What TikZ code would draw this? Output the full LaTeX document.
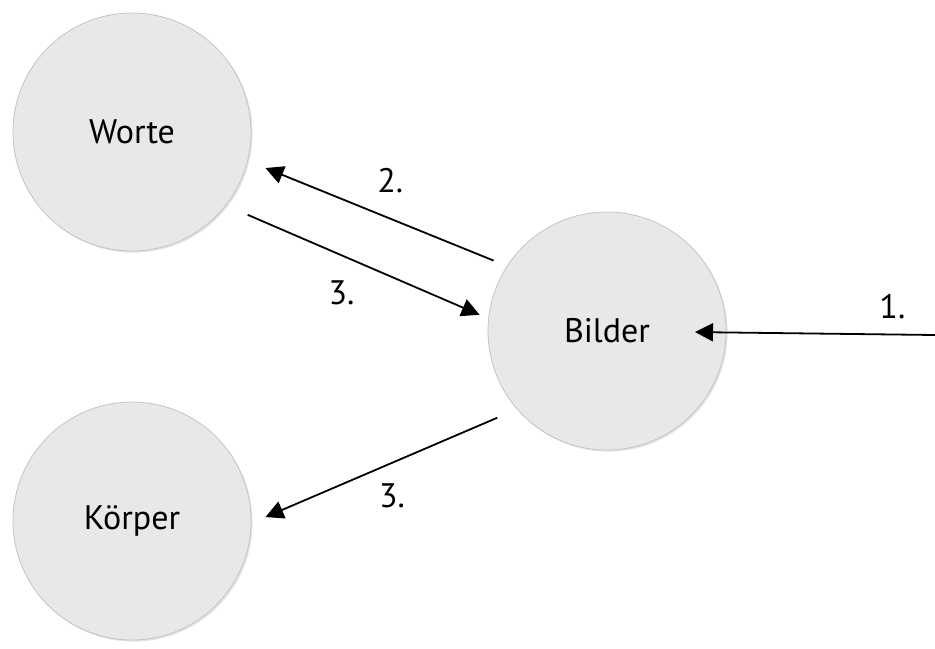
\documentclass[tikz,border=0pt]{standalone}
\usepackage{fontspec}
\setmainfont{PT Sans}
\usepackage{xcolor}
\usetikzlibrary{arrows.meta, shadows}

\definecolor{bubblefill}{RGB}{232,232,232}
\definecolor{bubbleline}{RGB}{196,196,196}

\begin{document}
\begin{tikzpicture}[
  x=0.5pt, y=-0.5pt,
  bubble/.style={circle, draw=bubbleline, line width=0.4pt, fill=bubblefill, minimum size=119pt, inner sep=0pt,
    font=\fontsize{17}{20}\selectfont, drop shadow={opacity=0.22, shadow xshift=0.8pt, shadow yshift=-0.8pt}},
  steplabel/.style={font=\fontsize{17}{20}\selectfont},
  >={Triangle[length=9pt, width=9pt]},
  flow/.style={draw, ->, line width=0.9pt}
]
  \useasboundingbox (0,0) rectangle (935,648);

  \node[bubble] (worte) at (132,132) {Worte};
  \node[bubble] (koerper) at (132,521) {Körper};
  \node[bubble] (bilder) at (607,331) {Bilder};
  \coordinate (input) at (935,335);

  \draw[flow, shorten >=44pt] (input) -- node[pos=0.13, above=4pt, steplabel]{1.} (bilder.center);
  \draw[flow, shorten <=7.2pt, shorten >=9.5pt] (bilder.147.7) -- node[pos=0.45, above=9pt, steplabel]{2.} (worte.-14);
  \draw[flow, shorten <=11.75pt, shorten >=4.7pt] (worte.-38.3) -- node[pos=0.44, below=9pt, steplabel]{3.} (bilder.174.1);
  \draw[flow, shorten <=10.7pt, shorten >=7.65pt] (bilder.221.4) -- node[pos=0.47, below=6.7pt, steplabel]{3.} (koerper.-1.4);
\end{tikzpicture}
\end{document}
